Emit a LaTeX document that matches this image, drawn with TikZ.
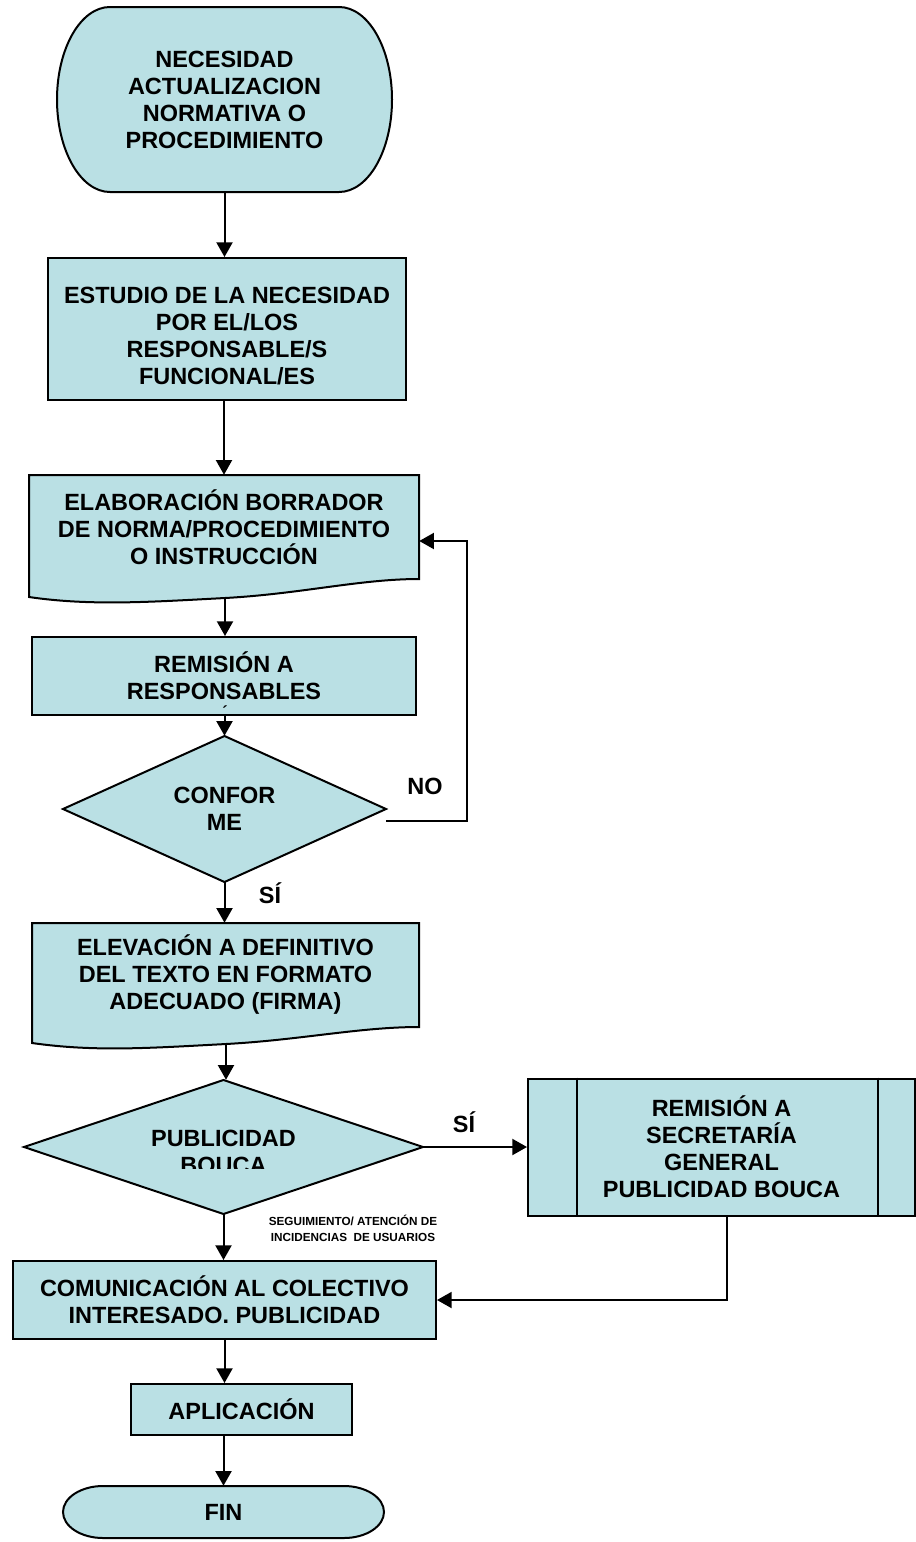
\documentclass[tikz,border=0pt]{standalone}
\usepackage{fontspec}
\setmainfont{Liberation Sans}
\usetikzlibrary{arrows.meta,calc}
\definecolor{fillc}{RGB}{186,224,228}
\begin{document}
\begin{tikzpicture}[x=0.75pt,y=-0.75pt,
 txt/.style={font=\bfseries\fontsize{17.6}{20.25}\selectfont, align=center, inner sep=0pt},
 box/.style={txt, draw, fill=fillc, line width=1.5pt, rectangle},
 geo/.style={txt, rectangle},
 outl/.style={draw, fill=fillc, line width=1.5pt},
 arr/.style={line width=1.5pt, -{Triangle[length=11pt,width=12pt]}},
 ln/.style={line width=1.5pt},
 small/.style={font=\bfseries\fontsize{8.8}{11.5}\selectfont, align=center, inner sep=0pt}]

\useasboundingbox (0,0) rectangle (916,1542);

% start terminal
\draw[outl] (110,7) -- (339,7) .. controls (368.3,7) and (392,48.4) .. (392,99.5)
  .. controls (392,150.6) and (368.3,192) .. (339,192) -- (110,192)
  .. controls (80.7,192) and (57,150.6) .. (57,99.5)
  .. controls (57,48.4) and (80.7,7) .. (110,7) -- cycle;
\node[geo, minimum width=251.25pt, minimum height=138.75pt] (n1) at (224.5,99.5)
  {NECESIDAD\\ACTUALIZACION\\NORMATIVA O\\PROCEDIMIENTO};

% estudio
\node[box, minimum width=268.5pt, minimum height=106.5pt,
  label={[txt, yshift=-5.25pt]center:{ESTUDIO DE LA NECESIDAD\\POR EL/LOS\\RESPONSABLE/S\\FUNCIONAL/ES}}]
  (n2) at (227,329) {};

% elaboracion (document)
\draw[outl] (29,475) -- (419,475) -- (419,579)
  .. controls (360,579) and (300,594) .. (225,598)
  .. controls (150,602) and (90,606) .. (29,597) -- cycle;
\node[geo, minimum width=292.5pt, minimum height=78pt] (n3) at (224,527)
  {ELABORACIÓN BORRADOR\\DE NORMA/PROCEDIMIENTO\\O INSTRUCCIÓN};
\coordinate (n3b) at (225,598);

% remision
\node[box, minimum width=288pt, minimum height=58.5pt] (n4) at (224,676)
  {REMISIÓN A\\RESPONSABLES};
\node[txt, font=\bfseries\fontsize{12}{14}\selectfont] (acc) at (225,712) {´};

% conforme
\draw[outl] (224.5,736) -- (386,809) -- (224.5,882) -- (63,809) -- cycle;
\node[geo, minimum width=242.25pt, minimum height=109.5pt] (d1) at (224.5,809) {CONFOR\\ME};
\node[txt] (lno) at (425,786) {NO};
\node[txt] (lsi1) at (270,893) {SÍ};

% elevacion (document)
\draw[outl] (32,923) -- (419,923) -- (419,1027)
  .. controls (360,1027) and (300,1040) .. (226,1044)
  .. controls (150,1048) and (95,1052) .. (32,1043) -- cycle;
\node[geo, minimum width=290.25pt, minimum height=78pt] (n5) at (225.5,975)
  {ELEVACIÓN A DEFINITIVO\\DEL TEXTO EN FORMATO\\ADECUADO (FIRMA)};
\coordinate (n5b) at (226,1044);

% publicidad bouca
\draw[outl] (223.5,1080) -- (423,1147) -- (223.5,1214) -- (24,1147) -- cycle;
\node[geo, minimum width=299.25pt, minimum height=100.5pt] (d2) at (223.5,1147) {};
\begin{scope}
  \clip (100,1100) rectangle (350,1168);
  \node[txt] (t2) at (223.5,1152) {PUBLICIDAD\\BOUCA};
\end{scope}
\node[txt] (lsi2) at (464,1122) {SÍ};

% predefined process
\node[box, minimum width=290.25pt, minimum height=102.75pt] (p1) at (721.5,1147)
  {REMISIÓN A\\SECRETARÍA\\GENERAL\\PUBLICIDAD BOUCA};
\draw[ln] ([xshift=37.5pt]p1.north west) -- ([xshift=37.5pt]p1.south west);
\draw[ln] ([xshift=-28.5pt]p1.north east) -- ([xshift=-28.5pt]p1.south east);

\node[small] (seg) at (353,1228.5) {SEGUIMIENTO/ ATENCIÓN DE\\INCIDENCIAS\ \ DE USUARIOS};

% comunicacion
\node[box, minimum width=317.25pt, minimum height=58.5pt] (n6) at (224.5,1300)
  {COMUNICACIÓN AL COLECTIVO\\INTERESADO. PUBLICIDAD};

% aplicacion
\node[box, minimum width=165.75pt, minimum height=38.25pt] (n7) at (241.5,1409.5) {APLICACIÓN};

% fin
\draw[outl] (103,1486) -- (344,1486) .. controls (366,1486) and (384,1497.6) .. (384,1512)
  .. controls (384,1526.4) and (366,1538) .. (344,1538) -- (103,1538)
  .. controls (81,1538) and (63,1526.4) .. (63,1512)
  .. controls (63,1497.6) and (81,1486) .. (103,1486) -- cycle;
\node[geo, minimum width=240.75pt, minimum height=39pt] (fin) at (223.5,1512) {FIN};

% connectors
\draw[arr] (n1.south) -- (n1.south |- n2.north);
\draw[arr] (n2.south -| n3.north) -- (n3.north);
\draw[arr] (n3b) -- (n3b |- n4.north);
\draw[arr] (n4.south -| d1.north) -- (d1.north);
\coordinate (loopc) at (467,541);
\draw[arr] ([yshift=-9pt]d1.east) -| (loopc) -- ([yshift=-10.5pt]n3.east);
\draw[arr] (d1.south) -- (d1.south |- n5.north);
\draw[arr] (n5b) -- (n5b |- d2.north);
\draw[arr] (d2.east) -- (p1.west);
\draw[arr] (d2.south) -- (d2.south |- n6.north);
\draw[arr] ([xshift=4.1pt]p1.south) |- (n6.east);
\draw[arr] (n6.south) -- (n6.south |- n7.north);
\draw[arr] (n7.south -| fin.north) -- (fin.north);
\end{tikzpicture}
\end{document}
